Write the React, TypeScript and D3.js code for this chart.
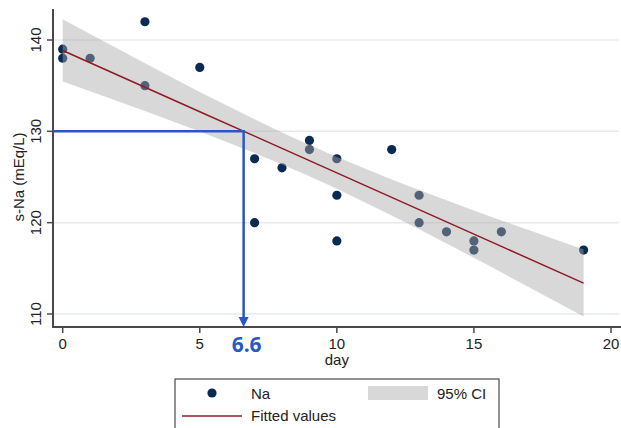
import React, { useRef, useEffect } from "react";
import * as d3 from "d3";

// observations: day and serum sodium
const days = [0, 0, 1, 3, 3, 5, 7, 7, 8, 9, 9, 10, 10, 10, 12, 13, 13, 14, 15, 15, 16, 19];
const sodium = [139, 138, 138, 142, 135, 137, 127, 120, 126, 129, 128, 127, 123, 118, 128, 123, 120, 119, 118, 117, 119, 117];
const xTicks = [0, 5, 10, 15, 20];
const yTicks = [110, 120, 130, 140];
const targetNa = 130;
const targetDay = 6.6;

const App = () => {
  const ref = useRef<SVGSVGElement | null>(null);

  useEffect(() => {
    const svg = d3.select(ref.current);
    svg.selectAll("*").remove();

    const x = d3.scaleLinear().domain([0, 20]).range([62.7, 611]);
    const y = d3.scaleLinear().domain([110, 140]).range([314, 40]);
    const left = 53, right = 621, top = 9, bottom = 327;
    const font = "'Liberation Sans', Arial, sans-serif";
    const fs = 15;

    // linear fit + 95% CI of mean
    const n = days.length;
    const mx = d3.mean(days)!;
    const my = d3.mean(sodium)!;
    const sxx = d3.sum(days, (d) => (d - mx) ** 2);
    const sxy = d3.sum(days, (d, i) => (d - mx) * (sodium[i] - my));
    const b = sxy / sxx;
    const a = my - b * mx;
    const rss = d3.sum(days, (d, i) => (sodium[i] - (a + b * d)) ** 2);
    const s = Math.sqrt(rss / (n - 2));
    const t = 2.086;
    const grid = Array.from(new Set(days)).sort((p, q) => p - q);
    const band = grid.map((d) => {
      const fit = a + b * d;
      const hw = t * s * Math.sqrt(1 / n + (d - mx) ** 2 / sxx);
      return { d, lo: fit - hw, hi: fit + hw, fit };
    });

    // gridlines
    svg.append("g")
      .selectAll("line")
      .data(yTicks)
      .join("line")
      .attr("x1", left).attr("x2", right - 2)
      .attr("y1", (d) => y(d)).attr("y2", (d) => y(d))
      .attr("stroke", "#e6eaef").attr("stroke-width", 1.5);

    // points
    svg.append("g")
      .selectAll("circle")
      .data(days)
      .join("circle")
      .attr("cx", (d) => x(d))
      .attr("cy", (d, i) => y(sodium[i]))
      .attr("r", 4.6)
      .attr("fill", "#0b2a52");

    // CI band
    svg.append("path")
      .datum(band)
      .attr("d", d3.area<any>().x((d) => x(d.d)).y0((d) => y(d.lo)).y1((d) => y(d.hi)))
      .attr("fill", "#a8a8a8")
      .attr("fill-opacity", 0.45);

    // fitted line
    svg.append("path")
      .datum(band)
      .attr("d", d3.line<any>().x((d) => x(d.d)).y((d) => y(d.fit)))
      .attr("fill", "none")
      .attr("stroke", "#8e1b24")
      .attr("stroke-width", 1.5);

    // axes
    svg.append("line")
      .attr("x1", left).attr("x2", left).attr("y1", top).attr("y2", bottom)
      .attr("stroke", "#4a4a4a").attr("stroke-width", 2);
    svg.append("line")
      .attr("x1", left - 1).attr("x2", right).attr("y1", bottom).attr("y2", bottom)
      .attr("stroke", "#4a4a4a").attr("stroke-width", 2);

    svg.append("g")
      .selectAll("line")
      .data(yTicks)
      .join("line")
      .attr("x1", left - 6).attr("x2", left)
      .attr("y1", (d) => y(d)).attr("y2", (d) => y(d))
      .attr("stroke", "#4a4a4a").attr("stroke-width", 1.5);
    svg.append("g")
      .selectAll("text")
      .data(yTicks)
      .join("text")
      .attr("transform", (d) => `translate(41,${y(d)}) rotate(-90)`)
      .attr("text-anchor", "middle")
      .attr("font-family", font)
      .attr("font-size", fs)
      .attr("fill", "#222")
      .text((d) => d);

    svg.append("g")
      .selectAll("line")
      .data(xTicks)
      .join("line")
      .attr("x1", (d) => x(d)).attr("x2", (d) => x(d))
      .attr("y1", bottom).attr("y2", bottom + 6)
      .attr("stroke", "#4a4a4a").attr("stroke-width", 1.5);
    svg.append("g")
      .selectAll("text")
      .data(xTicks)
      .join("text")
      .attr("x", (d) => x(d))
      .attr("y", 349)
      .attr("text-anchor", "middle")
      .attr("font-family", font)
      .attr("font-size", fs)
      .attr("fill", "#222")
      .text((d) => d);

    svg.append("text")
      .attr("x", x(10)).attr("y", 365)
      .attr("text-anchor", "middle")
      .attr("font-family", font).attr("font-size", fs).attr("fill", "#222")
      .text("day");
    svg.append("text")
      .attr("transform", `translate(24,177) rotate(-90)`)
      .attr("text-anchor", "middle")
      .attr("font-family", font).attr("font-size", fs).attr("fill", "#222")
      .text("s-Na (mEq/L)");

    // annotation
    const blue = "#2858c6";
    svg.append("path")
      .attr("d", `M${left},${y(targetNa)}H${x(targetDay)}V${bottom - 8}`)
      .attr("fill", "none").attr("stroke", blue).attr("stroke-width", 2.5);
    svg.append("path")
      .attr("d", `M${x(targetDay) - 5},${bottom - 10}L${x(targetDay) + 5},${bottom - 10}L${x(targetDay)},${bottom}Z`)
      .attr("fill", blue);
    svg.append("text")
      .attr("x", x(targetDay) + 3).attr("y", 352)
      .attr("text-anchor", "middle")
      .attr("font-family", "'Open Sans', sans-serif")
      .attr("font-weight", 700).attr("font-size", 21)
      .attr("fill", blue)
      .text(targetDay.toFixed(1));

    // legend
    const lg = svg.append("g");
    lg.append("rect")
      .attr("x", 175).attr("y", 379).attr("width", 324).attr("height", 60)
      .attr("fill", "#fff").attr("stroke", "#4a4a4a").attr("stroke-width", 1.2);
    lg.append("circle").attr("cx", 212).attr("cy", 393).attr("r", 4.6).attr("fill", "#0b2a52");
    lg.append("text").attr("x", 251).attr("y", 399)
      .attr("font-family", font).attr("font-size", fs).attr("fill", "#222").text("Na");
    lg.append("rect").attr("x", 368).attr("y", 386).attr("width", 60).attr("height", 14)
      .attr("fill", "#a8a8a8").attr("fill-opacity", 0.45);
    lg.append("text").attr("x", 437).attr("y", 399)
      .attr("font-family", font).attr("font-size", fs).attr("fill", "#222").text("95% CI");
    lg.append("line").attr("x1", 182).attr("x2", 242).attr("y1", 416).attr("y2", 416)
      .attr("stroke", "#8e1b24").attr("stroke-width", 1.5);
    lg.append("text").attr("x", 251).attr("y", 421)
      .attr("font-family", font).attr("font-size", fs).attr("fill", "#222").text("Fitted values");
  }, []);

  return (
    <svg
      ref={ref}
      width={621}
      height={428}
      style={{ position: "absolute", left: 0, top: 0, background: "#fff" }}
    />
  );
};

export default App;
